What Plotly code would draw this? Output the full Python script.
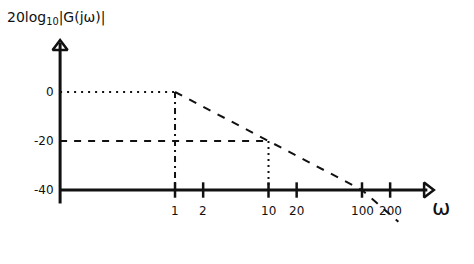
import math
import plotly.graph_objects as go

# ---- data ----
omega_ticks = [1, 2, 10, 20, 100, 200]
omega_tick_labels = ["1", "2", "10", "20", "100", "200"]
db_ticks = [0, -20, -40]
db_tick_labels = ["0", "-20", "-40"]

bode_omega = [1, 10, 100, 245]      # asymptotic magnitude (dashed)
bode_db = [0, -20, -40, -53]

corner_omega = [1, 10]              # guide lines to the corners
corner_db = [0, -20]

floor_db = -40                      # level of the omega axis
yaxis_omega = 0.059                 # omega value where the vertical axis is drawn
xaxis_end_omega = 500
yaxis_top_db = 20
yaxis_bottom_db = -45.5

INK = "#111111"
FONT = "DejaVu Sans"

fig = go.Figure()

def line(x, y, width=2, dash="solid"):
    fig.add_trace(go.Scatter(x=x, y=y, mode="lines", cliponaxis=False,
                             line=dict(color=INK, width=width, dash=dash),
                             hoverinfo="skip", showlegend=False))

# axes
line([yaxis_omega, yaxis_omega], [yaxis_bottom_db, yaxis_top_db], width=3)
line([yaxis_omega, xaxis_end_omega], [floor_db, floor_db], width=3)

# arrow heads
fig.add_trace(go.Scatter(x=[yaxis_omega], y=[yaxis_top_db - 1.5], mode="markers", cliponaxis=False,
                         marker=dict(symbol="triangle-up-open", size=13, color=INK, line=dict(width=2.5, color=INK)),
                         hoverinfo="skip", showlegend=False))
fig.add_trace(go.Scatter(x=[xaxis_end_omega], y=[floor_db], mode="markers", cliponaxis=False,
                         marker=dict(symbol="triangle-right-open", size=13, color=INK, line=dict(width=2.5, color=INK)),
                         hoverinfo="skip", showlegend=False))

# tick marks on the omega axis
fig.add_trace(go.Scatter(x=omega_ticks, y=[floor_db] * len(omega_ticks), mode="markers", cliponaxis=False,
                         marker=dict(symbol="line-ns-open", size=11, color=INK, line=dict(width=2.5, color=INK)),
                         hoverinfo="skip", showlegend=False))

# guide lines
line([yaxis_omega, corner_omega[0]], [corner_db[0], corner_db[0]], width=2, dash="2px,5px")
line([yaxis_omega, corner_omega[1]], [corner_db[1], corner_db[1]], width=2, dash="7px,7px")
line([corner_omega[0], corner_omega[0]], [corner_db[0], floor_db], width=2, dash="6px,4px,2px,4px")
line([corner_omega[1], corner_omega[1]], [corner_db[1], floor_db], width=2, dash="2px,4px")

# Bode asymptote
line(bode_omega, bode_db, width=2, dash="8px,8px")

# tick labels (annotation x on a log axis is given as log10)
for w, t in zip(omega_ticks, omega_tick_labels):
    fig.add_annotation(x=math.log10(w), y=floor_db, xref="x", yref="y", text=t, showarrow=False,
                       yshift=-21, font=dict(family=FONT, size=12, color=INK))
for d, t in zip(db_ticks, db_tick_labels):
    fig.add_annotation(x=math.log10(yaxis_omega), y=d, xref="x", yref="y", text=t, showarrow=False,
                       xanchor="right", xshift=-4, font=dict(family=FONT, size=12, color=INK))

# axis labels
fig.add_annotation(x=0.01, y=0.93, xref="paper", yref="paper", xanchor="left", yanchor="middle",
                   text="20log<sub>10</sub>|G(jω)|", showarrow=False,
                   font=dict(family=FONT, size=14, color=INK))
fig.add_annotation(x=math.log10(xaxis_end_omega), y=floor_db, xref="x", yref="y", xanchor="left",
                   text="ω", showarrow=False, xshift=3, yshift=-17,
                   font=dict(family=FONT, size=22, color=INK))

fig.update_layout(
    width=474, height=264,
    margin=dict(l=0, r=0, t=0, b=0),
    paper_bgcolor="white", plot_bgcolor="white",
    xaxis=dict(type="log", range=[-1.872, 3.198], visible=False),
    yaxis=dict(range=[-70.2, 37.55], visible=False),
)

fig.write_html("out.html")
